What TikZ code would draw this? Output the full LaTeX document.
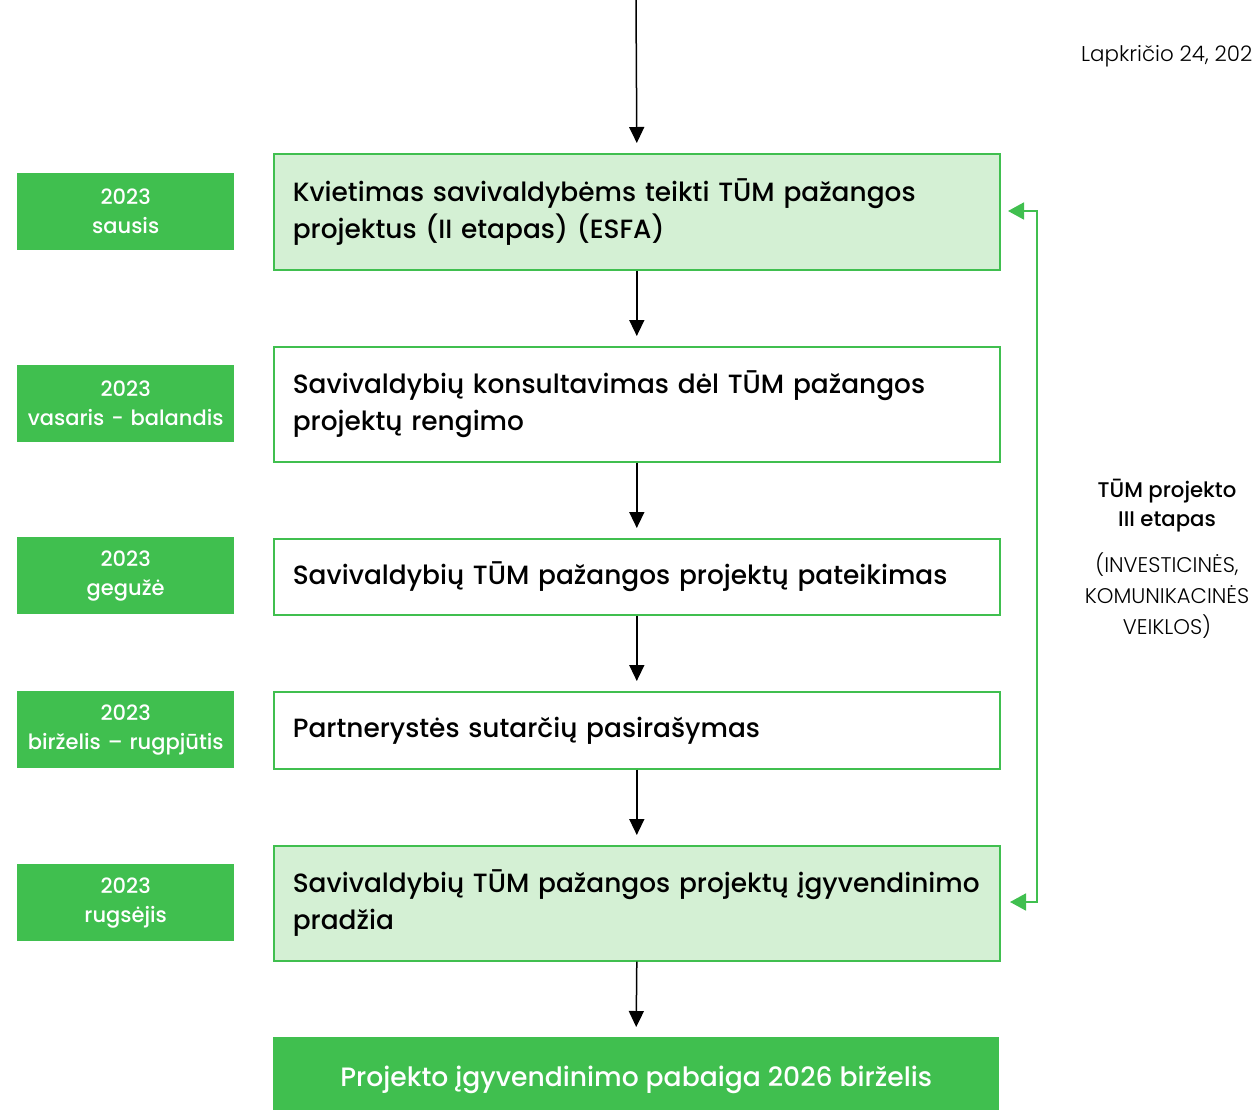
\documentclass[tikz,border=0pt]{standalone}
\usepackage{fontspec}
\setmainfont{Poppins}
\newfontfamily\popmed{Poppins Medium}
\newfontfamily\poplight{Poppins Light}
\usetikzlibrary{arrows.meta}
\definecolor{grn}{HTML}{40BF4F}
\definecolor{lgrn}{HTML}{D4F0D4}
\tikzset{
  x=1pt, y=-1pt,
  mainbox/.style={draw=grn, line width=1.6pt, anchor=north west, minimum width=726pt,
    text width=688pt, inner xsep=19pt, align=left, font=\popmed\fontsize{26.4}{37}\selectfont},
  datebox/.style={fill=grn, anchor=north west, minimum width=217pt, minimum height=77pt,
    text width=217pt, inner sep=0pt, align=center, text=white, font=\popmed\fontsize{21}{29}\selectfont},
  flow/.style={-{Triangle[length=16pt,width=15pt]}, line width=1.5pt, black},
  gflow/.style={-{Triangle[length=16pt,width=17pt]}, line width=1.8pt, grn},
}
\begin{document}
\begin{tikzpicture}
\useasboundingbox (0,0) rectangle (1253,1109);
\clip (0,0) rectangle (1253,1109);
% date boxes
\node[datebox] (d1) at (17,173) {2023\\sausis};
\node[datebox] (d2) at (17,365) {2023\\vasaris - balandis};
\node[datebox] (d3) at (17,537) {2023\\gegužė};
\node[datebox] (d4) at (17,691) {2023\\birželis – rugpjūtis};
\node[datebox] (d5) at (17,864) {2023\\rugsėjis};
% main boxes
\node[mainbox, fill=lgrn, minimum height=116pt] (b1) at (273,153) {Kvietimas savivaldybėms teikti TŪM pažangos\\projektus (II etapas) (ESFA)};
\node[mainbox, fill=white, minimum height=115pt] (b2) at (273,346) {Savivaldybių konsultavimas dėl TŪM pažangos\\projektų rengimo};
\node[mainbox, fill=white, minimum height=76pt] (b3) at (273,538) {Savivaldybių TŪM pažangos projektų pateikimas};
\node[mainbox, fill=white, minimum height=77pt] (b4) at (273,691) {Partnerystės sutarčių pasirašymas};
\node[mainbox, fill=lgrn, minimum height=115pt] (b5) at (273,845) {Savivaldybių TŪM pažangos projektų įgyvendinimo\\pradžia};
\node[fill=grn, anchor=north west, minimum width=726pt, minimum height=86pt, text=white,
  font=\popmed\fontsize{26.6}{37}\selectfont] (b6) at (273,1037) {Projekto įgyvendinimo pabaiga 2026 birželis};
% arrows
\coordinate (top) at (636,0);
\draw[flow] (top) -- ([yshift=10pt]b1.north);
\draw[flow] (b1.south) -- ([yshift=10pt]b2.north);
\draw[flow] (b2.south) -- ([yshift=10pt]b3.north);
\draw[flow] (b3.south) -- ([yshift=10pt]b4.north);
\draw[flow] (b4.south) -- ([yshift=10pt]b5.north);
\draw[flow] (b5.south) -- ([yshift=10pt]b6.north);
% green bracket
\coordinate (g1) at (1008,211);
\coordinate (g2) at (1010,902);
\draw[gflow] (1037,560) |- (g1);
\draw[gflow] (1037,560) |- (g2);
% side text
\node[font=\popmed\fontsize{21.2}{29}\selectfont, align=center, anchor=north] (t1) at (1167,476) {TŪM projekto\\III etapas};
\node[font=\poplight\fontsize{21.2}{31}\selectfont, align=center, anchor=north] (t2) at (1167,549) {(INVESTICINĖS,\\KOMUNIKACINĖS\\VEIKLOS)};
\node[font=\poplight\fontsize{21.4}{24}\selectfont, anchor=west, inner sep=0pt] (date) at (1081,56) {Lapkričio 24, 2022};
\end{tikzpicture}
\end{document}
